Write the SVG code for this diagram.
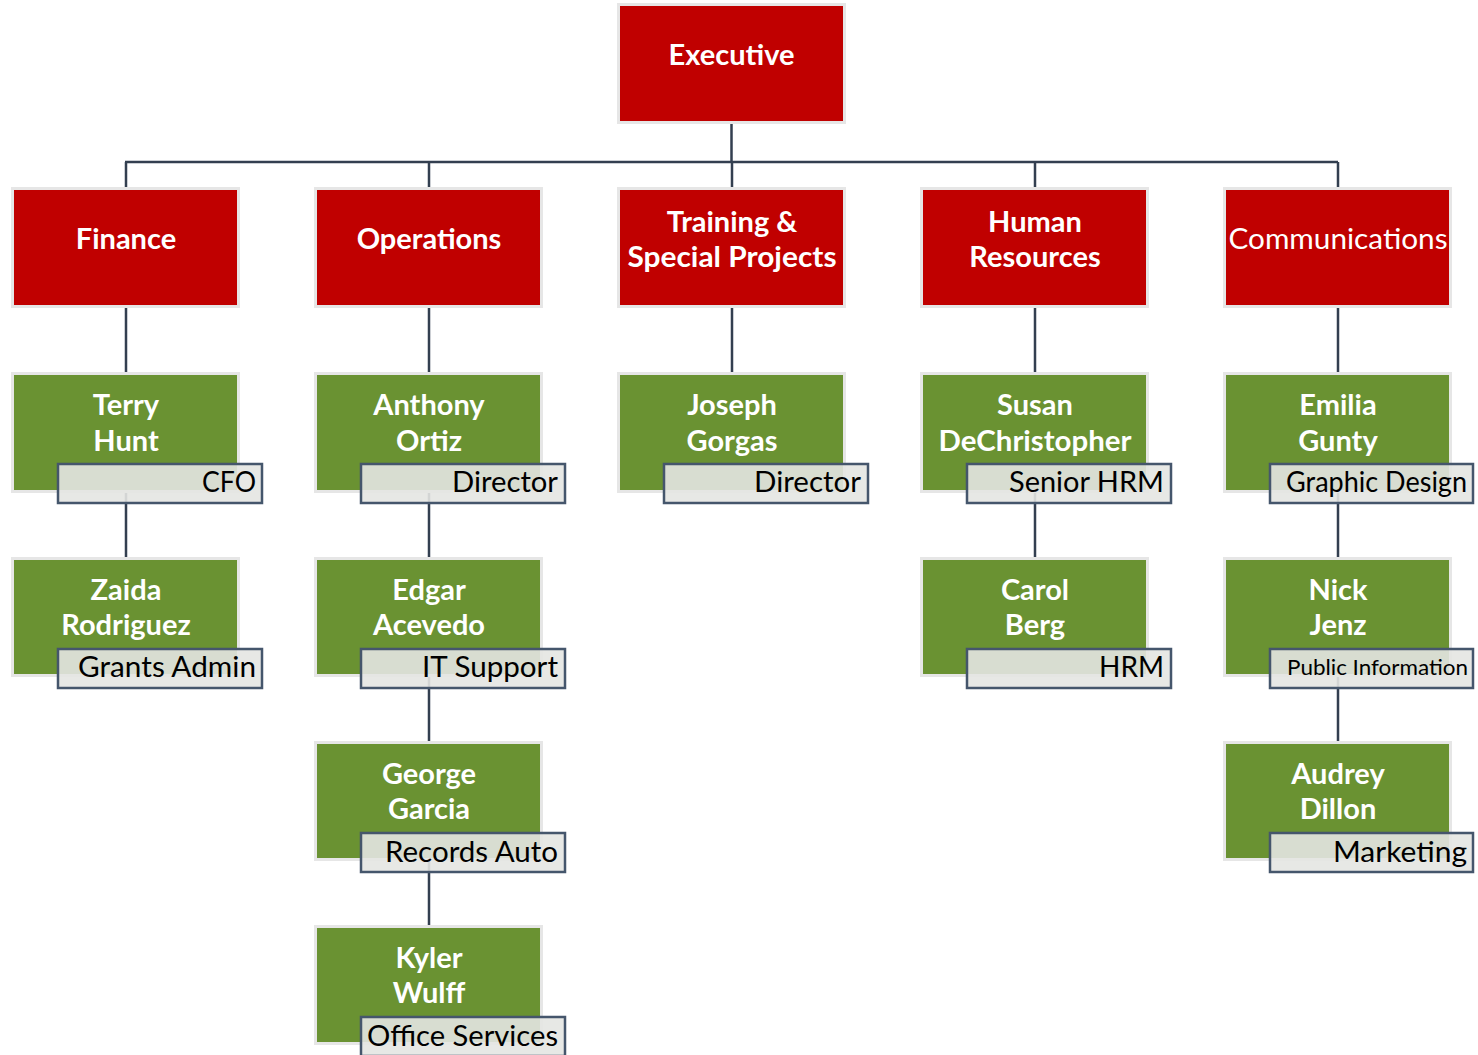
<svg xmlns="http://www.w3.org/2000/svg" width="1478" height="1055" viewBox="0 0 1478 1055">
<style>
.red{fill:#c00000;stroke:#e6e6e6;stroke-width:3}
.grn{fill:#6a9232;stroke:#e6e6e6;stroke-width:3}
.lbl{fill:#e4e5e2;fill-opacity:0.9;stroke:#45566c;stroke-width:2.5}
.t{font-family:Lato,"Open Sans",sans-serif;fill:#ffffff;text-anchor:middle;font-size:29px;font-weight:bold}
.tn{font-family:Lato,"Open Sans",sans-serif;fill:#ffffff;text-anchor:middle;font-size:29px;font-weight:normal}
.l{font-family:Lato,"Open Sans",sans-serif;fill:#000000;text-anchor:end;font-size:28px}
.ls{font-family:Lato,"Open Sans",sans-serif;fill:#000000;text-anchor:end;font-size:22px}
.c{stroke:#333f50;stroke-width:2.5;fill:none}
</style>
<rect width="1478" height="1055" fill="#ffffff"/>
<g id="connectors">
<path class="c" d="M731.5 122V162M125 162H1338M126 162V190M429 162V190M732 162V190M1035 162V190M1338 162V190"/>
<path class="c" d="M126 305V560M429 305V928M732 305V375M1035 305V560M1338 305V744"/>
</g>
<g id="executive"><rect class="red" x="618.5" y="4.5" width="226" height="118"/><text class="t" x="731.5" y="65">Executive</text></g>
<g id="finance"><rect class="red" x="12.5" y="188.5" width="226" height="118"/><text class="t" x="126" y="249">Finance</text></g>
<g id="operations"><rect class="red" x="315.5" y="188.5" width="226" height="118"/><text class="t" x="429" y="249">Operations</text></g>
<g id="training"><rect class="red" x="618.5" y="188.5" width="226" height="118"/><text class="t" x="732" y="232">Training &amp;</text><text class="t" x="732" y="267" textLength="209" lengthAdjust="spacingAndGlyphs">Special Projects</text></g>
<g id="hr"><rect class="red" x="921.5" y="188.5" width="226" height="118"/><text class="t" x="1035" y="232">Human</text><text class="t" x="1035" y="267">Resources</text></g>
<g id="communications"><rect class="red" x="1224.5" y="188.5" width="226" height="118"/><text class="tn" x="1338" y="249" textLength="219" lengthAdjust="spacingAndGlyphs">Communications</text></g>

<g id="terry"><rect class="grn" x="12.5" y="373.5" width="226" height="118"/><text class="t" x="126" y="415">Terry</text><text class="t" x="126" y="451">Hunt</text><rect class="lbl" x="58" y="464" width="204" height="39"/><text class="l" x="256" y="492" textLength="54" lengthAdjust="spacingAndGlyphs">CFO</text></g>
<g id="anthony"><rect class="grn" x="315.5" y="373.5" width="226" height="118"/><text class="t" x="429" y="415">Anthony</text><text class="t" x="429" y="451">Ortiz</text><rect class="lbl" x="361" y="464" width="204" height="39"/><text class="l" x="558" y="492" textLength="106" lengthAdjust="spacingAndGlyphs">Director</text></g>
<g id="joseph"><rect class="grn" x="618.5" y="373.5" width="226" height="118"/><text class="t" x="732" y="415">Joseph</text><text class="t" x="732" y="451">Gorgas</text><rect class="lbl" x="664" y="464" width="204" height="39"/><text class="l" x="861" y="492" textLength="107" lengthAdjust="spacingAndGlyphs">Director</text></g>
<g id="susan"><rect class="grn" x="921.5" y="373.5" width="226" height="118"/><text class="t" x="1035" y="415">Susan</text><text class="t" x="1035" y="451" textLength="193" lengthAdjust="spacingAndGlyphs">DeChristopher</text><rect class="lbl" x="967" y="464" width="204" height="39"/><text class="l" x="1164" y="492" textLength="155" lengthAdjust="spacingAndGlyphs">Senior HRM</text></g>
<g id="emilia"><rect class="grn" x="1224.5" y="373.5" width="226" height="118"/><text class="t" x="1338" y="415">Emilia</text><text class="t" x="1338" y="451">Gunty</text><rect class="lbl" x="1270" y="464" width="203" height="39"/><text class="l" x="1467" y="492" textLength="181" lengthAdjust="spacingAndGlyphs">Graphic Design</text></g>

<g id="zaida"><rect class="grn" x="12.5" y="558.5" width="226" height="117"/><text class="t" x="126" y="600">Zaida</text><text class="t" x="126" y="635">Rodriguez</text><rect class="lbl" x="58" y="649" width="204" height="39"/><text class="l" x="256" y="677" textLength="178" lengthAdjust="spacingAndGlyphs">Grants Admin</text></g>
<g id="edgar"><rect class="grn" x="315.5" y="558.5" width="226" height="117"/><text class="t" x="429" y="600">Edgar</text><text class="t" x="429" y="635">Acevedo</text><rect class="lbl" x="361" y="649" width="204" height="39"/><text class="l" x="558" y="677" textLength="136" lengthAdjust="spacingAndGlyphs">IT Support</text></g>
<g id="carol"><rect class="grn" x="921.5" y="558.5" width="226" height="117"/><text class="t" x="1035" y="600">Carol</text><text class="t" x="1035" y="635">Berg</text><rect class="lbl" x="967" y="649" width="204" height="39"/><text class="l" x="1164" y="677" textLength="65" lengthAdjust="spacingAndGlyphs">HRM</text></g>
<g id="nick"><rect class="grn" x="1224.5" y="558.5" width="226" height="117"/><text class="t" x="1338" y="600">Nick</text><text class="t" x="1338" y="635">Jenz</text><rect class="lbl" x="1270" y="649" width="203" height="39"/><text class="ls" x="1468" y="675" textLength="181" lengthAdjust="spacingAndGlyphs">Public Information</text></g>

<g id="george"><rect class="grn" x="315.5" y="742.5" width="226" height="117"/><text class="t" x="429" y="784">George</text><text class="t" x="429" y="819">Garcia</text><rect class="lbl" x="361" y="833" width="204" height="39"/><text class="l" x="558" y="862" textLength="173" lengthAdjust="spacingAndGlyphs">Records Auto</text></g>
<g id="audrey"><rect class="grn" x="1224.5" y="742.5" width="226" height="117"/><text class="t" x="1338" y="784">Audrey</text><text class="t" x="1338" y="819">Dillon</text><rect class="lbl" x="1270" y="833" width="203" height="39"/><text class="l" x="1467" y="862" textLength="134" lengthAdjust="spacingAndGlyphs">Marketing</text></g>

<g id="kyler"><rect class="grn" x="315.5" y="926.5" width="226" height="117"/><text class="t" x="429" y="968">Kyler</text><text class="t" x="429" y="1003">Wulff</text><rect class="lbl" x="361" y="1017" width="204" height="39"/><text class="l" x="558" y="1046" textLength="191" lengthAdjust="spacingAndGlyphs">Office Services</text></g>
</svg>
